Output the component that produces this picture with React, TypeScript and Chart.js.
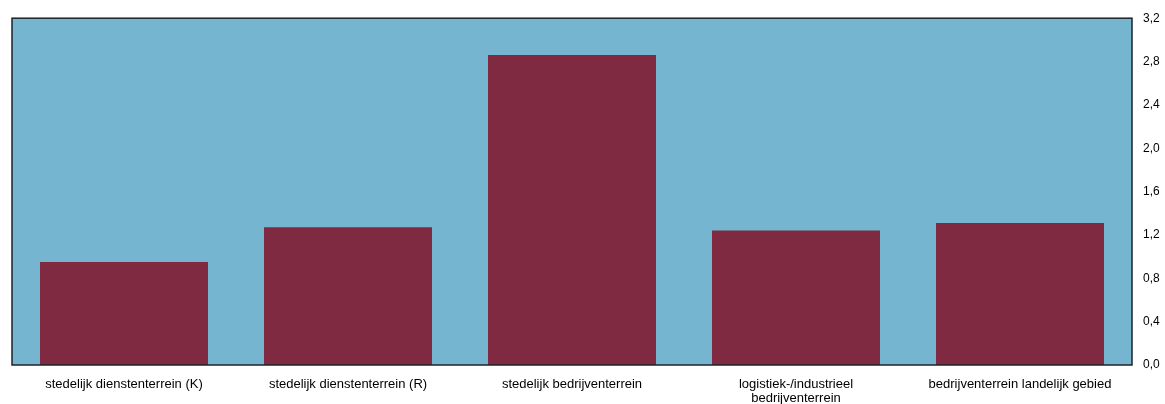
import React, { useEffect, useRef } from "react";
import { Chart, registerables } from "chart.js";

Chart.register(...registerables);

const categories: (string | string[])[] = [
  "stedelijk dienstenterrein (K)",
  "stedelijk dienstenterrein (R)",
  "stedelijk bedrijventerrein",
  ["logistiek-/industrieel", "bedrijventerrein"],
  "bedrijventerrein landelijk gebied",
];
const values = [0.95, 1.27, 2.86, 1.24, 1.31];
const yMin = 0;
const yMax = 3.2;
const yStep = 0.4;

const plotBg = {
  id: "plotBg",
  beforeDraw(chart: any) {
    const { ctx, chartArea: a } = chart;
    ctx.save();
    ctx.fillStyle = "#76B5D0";
    ctx.fillRect(a.left, a.top, a.right - a.left, a.bottom - a.top);
    ctx.restore();
  },
  afterDatasetsDraw(chart: any) {
    const { ctx, chartArea: a } = chart;
    ctx.save();
    ctx.strokeStyle = "#1c2328";
    ctx.lineWidth = 1.5;
    ctx.strokeRect(a.left, a.top, a.right - a.left, a.bottom - a.top);
    ctx.restore();
  },
};

export default function App() {
  const ref = useRef<HTMLCanvasElement | null>(null);
  useEffect(() => {
    document.body.style.margin = "0";
    const chart = new Chart(ref.current as HTMLCanvasElement, {
      type: "bar",
      data: {
        labels: categories,
        datasets: [
          {
            data: values,
            backgroundColor: "#7F2A40",
            barPercentage: 0.75,
            categoryPercentage: 1,
          },
        ],
      },
      options: {
        animation: false,
        responsive: false,
        layout: { padding: { left: 12, top: 16, right: 0, bottom: 0 } },
        plugins: { legend: { display: false }, tooltip: { enabled: false }, title: { display: false } },
        scales: {
          x: {
            grid: { display: false, drawTicks: false, tickLength: 0 },
            border: { display: false },
            ticks: {
              color: "#000",
              font: { family: "'Liberation Sans', Arial, sans-serif", size: 13, lineHeight: 1.08 },
              padding: 12,
              maxRotation: 0,
              autoSkip: false,
            },
            afterFit(scale: any) {
              scale.height = 39;
            },
          },
          y: {
            position: "right",
            min: yMin,
            max: yMax,
            grid: { display: false, drawTicks: false, tickLength: 0 },
            border: { display: false },
            ticks: {
              stepSize: yStep,
              color: "#000",
              font: { family: "'Liberation Sans', Arial, sans-serif", size: 12 },
              padding: 11,
              callback: (v: any) => Number(v).toFixed(1).replace(".", ","),
            },
            afterFit(scale: any) {
              scale.width = 33;
            },
          },
        },
      },
      plugins: [plotBg],
    });
    return () => chart.destroy();
  }, []);
  return (
    <div style={{ position: "absolute", left: 0, top: 0, width: 1165, height: 404, background: "#fff" }}>
      <canvas ref={ref} width={1165} height={404} style={{ width: 1165, height: 404 }} />
    </div>
  );
}
